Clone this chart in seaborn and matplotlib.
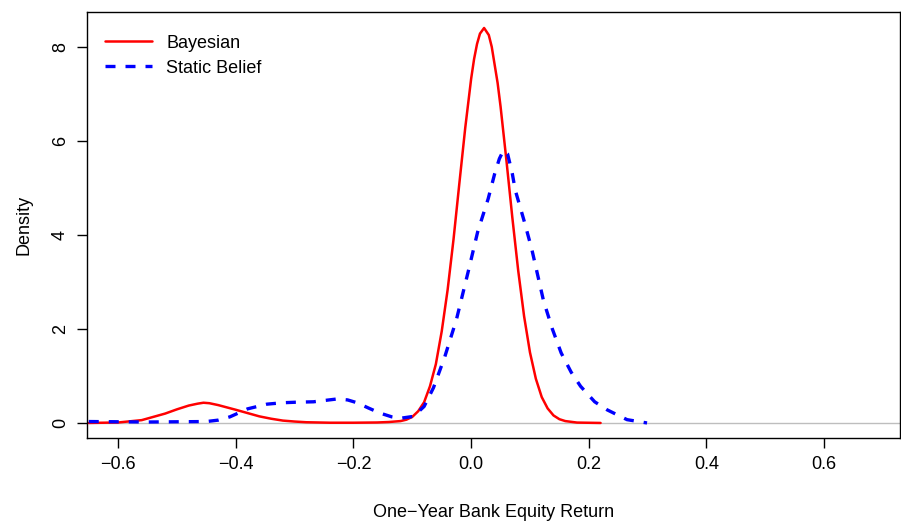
import numpy as np
import pandas as pd
import seaborn as sns
import matplotlib.pyplot as plt

# density curves
bayes_x = [-0.65, -0.60, -0.56, -0.52, -0.50, -0.48, -0.465, -0.455, -0.445, -0.43, -0.415,
           -0.40, -0.38, -0.36, -0.34, -0.32, -0.30, -0.28, -0.24, -0.20, -0.16, -0.14,
           -0.12, -0.11, -0.10, -0.09, -0.08, -0.07, -0.06, -0.05, -0.04, -0.03, -0.02,
           -0.01, 0.0, 0.005, 0.01, 0.015, 0.022, 0.03, 0.035, 0.045, 0.05, 0.06, 0.07,
           0.08, 0.09, 0.10, 0.11, 0.12, 0.13, 0.14, 0.15, 0.16, 0.18, 0.22]
bayes_y = [0.0, 0.01, 0.06, 0.20, 0.29, 0.37, 0.41, 0.43, 0.42, 0.38, 0.33,
           0.28, 0.21, 0.14, 0.09, 0.05, 0.03, 0.015, 0.005, 0.005, 0.01, 0.02,
           0.04, 0.07, 0.13, 0.25, 0.44, 0.78, 1.25, 1.95, 2.83, 3.90, 5.10,
           6.28, 7.32, 7.74, 8.06, 8.28, 8.40, 8.25, 8.00, 7.23, 6.73, 5.58, 4.37,
           3.24, 2.27, 1.50, 0.94, 0.55, 0.31, 0.16, 0.08, 0.04, 0.008, 0.0]

static_x = [-0.65, -0.55, -0.45, -0.43, -0.41, -0.38, -0.347, -0.32, -0.30, -0.268, -0.228,
            -0.21, -0.194, -0.175, -0.155, -0.135, -0.12, -0.098, -0.08, -0.064, -0.045,
            -0.025, -0.004, 0.011, 0.029, 0.04, 0.048, 0.055, 0.062, 0.07, 0.075, 0.09,
            0.103, 0.123, 0.138, 0.153, 0.17, 0.186, 0.21, 0.231, 0.265, 0.299]
static_y = [0.03, 0.02, 0.03, 0.06, 0.13, 0.30, 0.40, 0.43, 0.44, 0.45, 0.51,
            0.49, 0.43, 0.32, 0.21, 0.13, 0.10, 0.14, 0.35, 0.75, 1.40,
            2.20, 3.27, 4.06, 4.77, 5.30, 5.62, 5.80, 5.72, 5.30, 4.95, 4.30,
            3.70, 2.60, 2.00, 1.49, 1.08, 0.78, 0.45, 0.28, 0.07, 0.0]

sns.set_style("white")
plt.rcParams['font.family'] = ['Liberation Sans', 'DejaVu Sans']
plt.rcParams['text.color'] = 'black'
plt.rcParams['axes.labelcolor'] = 'black'
plt.rcParams['xtick.color'] = 'black'
plt.rcParams['ytick.color'] = 'black'

fig = plt.figure(figsize=(9.01, 5.21), dpi=100)
ax = fig.add_axes([87 / 901, 83 / 521, 813 / 901, 426 / 521])

ax.axhline(0, color='#bebebe', lw=1, zorder=0)
sns.lineplot(x=bayes_x, y=bayes_y, ax=ax, color='red', lw=1.8, label='Bayesian')
sns.lineplot(x=static_x, y=static_y, ax=ax, color='blue', lw=2.4, ls=(0, (3, 3)),
             label='Static Belief')

ax.set_xlim(-0.653, 0.729)
ax.set_ylim(-0.32, 8.74)
ax.set_xticks([-0.6, -0.4, -0.2, 0.0, 0.2, 0.4, 0.6])
ax.set_xticklabels(['\u22120.6', '\u22120.4', '\u22120.2', '0.0', '0.2', '0.4', '0.6'])
ax.set_yticks([0, 2, 4, 6, 8])
for lab in ax.get_yticklabels():
    lab.set_rotation(90)
    lab.set_va('center')
ax.tick_params(axis='both', direction='out', length=7, width=1, labelsize=13,
               left=True, bottom=True, color='black')
ax.tick_params(axis='x', pad=6)
ax.tick_params(axis='y', pad=6)
for s in ax.spines.values():
    s.set_color('black')
    s.set_linewidth(1)
ax.set_xlabel('One\u2212Year Bank Equity Return', fontsize=13, labelpad=22)
ax.set_ylabel('Density', fontsize=13, labelpad=14)

ax.legend(loc='upper left', frameon=False, fontsize=13, handlelength=2.6,
          bbox_to_anchor=(0.002, 0.985), labelspacing=0.45)

fig.savefig('out.png', dpi=100)
